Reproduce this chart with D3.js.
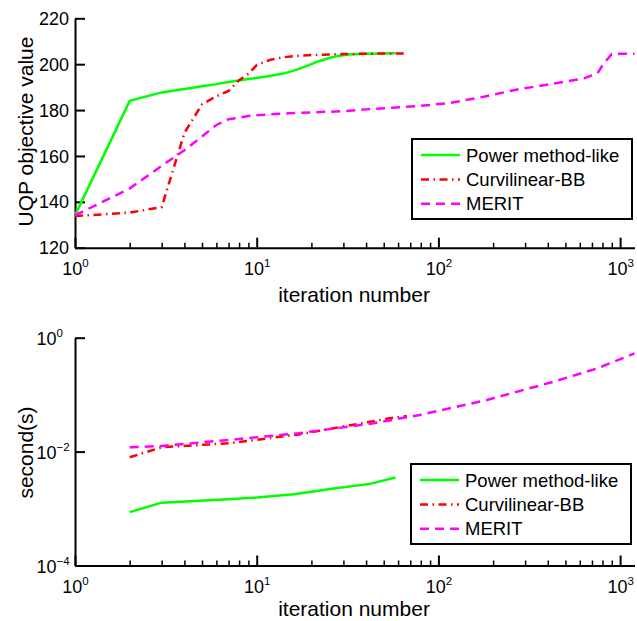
<!DOCTYPE html>
<html>
<head>
<meta charset="utf-8">
<script src="https://cdn.jsdelivr.net/npm/d3@7"></script>
<style>
  body { margin: 0; background: #fff; }
  svg text { font-family: "Liberation Sans", Arial, sans-serif; fill: #000; }
</style>
</head>
<body>
<svg id="chart" width="637" height="621"></svg>
<script>
// ---- data ----
// top panel: UQP objective value vs iteration
const powerIter = [1, 2, 3, 4, 5, 6, 7, 8, 9, 10, 12, 14, 16, 18, 20, 22, 25, 28, 32, 40, 50, 58];
const powerObj  = [134.1, 184, 187.7, 189.2, 190.4, 191.3, 192.2, 192.9, 193.5, 194, 195, 195.9, 197.2, 198.6, 200, 201.3, 202.7, 203.6, 204.2, 204.5, 204.7, 204.8];

const curvIter = [1, 2, 3, 4, 5, 6, 7, 8, 9, 10, 11, 12, 14, 16, 20, 30, 45, 67];
const curvObj  = [133.8, 135.3, 137.7, 170, 182.5, 186, 188.3, 193, 195.8, 199.6, 201, 202, 203, 203.5, 204, 204.4, 204.6, 204.7];

const meritIter = [1, 2, 3, 4, 5, 6, 7, 8, 9, 10, 12, 15, 20, 30, 40, 76, 116, 178, 272, 414, 632, 750, 812, 900, 1000, 1200];
const meritObj  = [134.1, 145.8, 155.7, 162.5, 168.5, 173.5, 176, 176.7, 177.4, 177.7, 178.2, 178.6, 179, 179.5, 180.3, 181.7, 183.1, 185.8, 189, 191.3, 193.8, 196, 200.3, 204.4, 204.5, 204.6];

// bottom panel: time in seconds vs iteration
const powerIterT = [2, 3, 7, 10, 16, 26, 42, 58];
const powerSec   = [8.65e-4, 1.27e-3, 1.46e-3, 1.56e-3, 1.79e-3, 2.22e-3, 2.71e-3, 3.5e-3];

const curvIterT = [2, 3, 7, 17, 54, 67];
const curvSec   = [7.97e-3, 1.19e-2, 1.4e-2, 2.0e-2, 3.85e-2, 4.2e-2];

const meritIterT = [2, 3, 7, 17, 44, 79, 185, 431, 749, 1200];
const meritSec   = [1.19e-2, 1.26e-2, 1.6e-2, 2.1e-2, 3.15e-2, 4.4e-2, 8.07e-2, 0.169, 0.29, 0.53];

const legendNames = ["Power method-like", "Curvilinear-BB", "MERIT"];
const topYTicks = [120, 140, 160, 180, 200, 220];
const botYTicks = [1e-4, 1e-2, 1];
const xMajor = [1, 10, 100, 1000];
const xMinor = [2,3,4,5,6,7,8,9,20,30,40,50,60,70,80,90,200,300,400,500,600,700,800,900];

// line styles per series
const styles = [
  { color: "#00ff00", dash: null },
  { color: "#ff0000", dash: "8,4.5,1.5,4.5" },
  { color: "#ff00ff", dash: "9,6" }
];

const svg = d3.select("#chart");

const x = d3.scaleLog().domain([1, 1200]).range([75, 634.5]);

function drawPanel(opt) {
  const g = svg.append("g");

  // minor x ticks
  g.append("g")
    .attr("transform", `translate(0,${opt.y0})`)
    .call(d3.axisBottom(x).tickValues(xMinor).tickSize(-5).tickFormat(""))
    .call(s => s.select(".domain").remove())
    .call(s => s.selectAll("line").attr("stroke", "#000").attr("stroke-width", 1.5));

  // major x ticks + axis line
  const xa = g.append("g")
    .attr("transform", `translate(0,${opt.y0})`)
    .call(d3.axisBottom(x).tickValues(xMajor).tickSize(-10).tickSizeOuter(0).tickPadding(15));
  xa.select(".domain").attr("stroke", "#000").attr("stroke-width", 2);
  xa.selectAll("line").attr("stroke", "#000").attr("stroke-width", 2);
  xa.selectAll("text")
    .attr("font-size", 18)
    .text(null)
    .each(function(d) {
      const t = d3.select(this);
      t.append("tspan").text("10");
      t.append("tspan").attr("font-size", 11.5).attr("dy", "-0.75em").text(Math.round(Math.log10(d)));
    });

  // y axis
  const ya = g.append("g")
    .attr("transform", "translate(75,0)")
    .call(d3.axisLeft(opt.y).tickValues(opt.yTicks).tickSize(-10).tickSizeOuter(0).tickPadding(6));
  ya.select(".domain").attr("stroke", "#000").attr("stroke-width", 2);
  ya.selectAll("line").attr("stroke", "#000").attr("stroke-width", 2);
  ya.selectAll("text").attr("font-size", 18);
  if (opt.logY) {
    ya.selectAll("text")
      .attr("text-anchor", "start")
      .attr("x", -38.5)
      .attr("dy", "0.4em")
      .text(null)
      .each(function(d) {
        const t = d3.select(this);
        const e = Math.round(Math.log10(d));
        t.append("tspan").text("10");
        t.append("tspan").attr("font-size", 11.5).attr("dy", "-0.75em").text(e < 0 ? "\u2212" + (-e) : e);
      });
  } else {
    ya.selectAll("text").attr("dy", "0.34em");
  }

  // axis titles
  g.append("text")
    .attr("x", 354).attr("y", opt.y0 + opt.titleGap)
    .attr("text-anchor", "middle")
    .attr("font-size", 21)
    .text("iteration number");
  g.append("text")
    .attr("transform", `translate(33,${opt.yMid}) rotate(-90)`)
    .attr("text-anchor", "middle")
    .attr("font-size", 21)
    .text(opt.yTitle);

  // series
  const line = d3.line().x(d => x(d[0])).y(d => opt.y(d[1]));
  opt.series.forEach((s, i) => {
    const pts = s[0].map((v, k) => [v, s[1][k]]);
    g.append("path")
      .datum(pts)
      .attr("fill", "none")
      .attr("stroke", styles[i].color)
      .attr("stroke-width", 2.5)
      .attr("stroke-dasharray", styles[i].dash)
      .attr("d", line);
  });

  // legend
  const lg = g.append("g");
  lg.append("rect")
    .attr("x", opt.leg.x).attr("y", opt.leg.y)
    .attr("width", 220).attr("height", 80)
    .attr("fill", "#fff").attr("stroke", "#000").attr("stroke-width", 2);
  legendNames.forEach((name, i) => {
    const ly = opt.leg.y + 16 + i * 24.4;
    lg.append("line")
      .attr("x1", opt.leg.x + 9).attr("x2", opt.leg.x + 48)
      .attr("y1", ly).attr("y2", ly)
      .attr("stroke", styles[i].color)
      .attr("stroke-width", 2.5)
      .attr("stroke-dasharray", styles[i].dash);
    lg.append("text")
      .attr("x", opt.leg.x + 54).attr("y", ly + 6.5)
      .attr("font-size", 18.5)
      .text(name);
  });
}

drawPanel({
  y0: 247.7,
  y: d3.scaleLinear().domain([120, 220]).range([247.7, 18.3]),
  yTicks: topYTicks,
  logY: false,
  yTitle: "UQP objective value",
  yMid: 131.5,
  titleGap: 54,
  series: [[powerIter, powerObj], [curvIter, curvObj], [meritIter, meritObj]],
  leg: { x: 412, y: 139 }
});

drawPanel({
  y0: 565.5,
  y: d3.scaleLog().domain([1e-4, 1]).range([565.5, 337.7]),
  yTicks: botYTicks,
  logY: true,
  yTitle: "second(s)",
  yMid: 452.5,
  titleGap: 50.5,
  series: [[powerIterT, powerSec], [curvIterT, curvSec], [meritIterT, meritSec]],
  leg: { x: 411, y: 464 }
});
</script>
</body>
</html>
